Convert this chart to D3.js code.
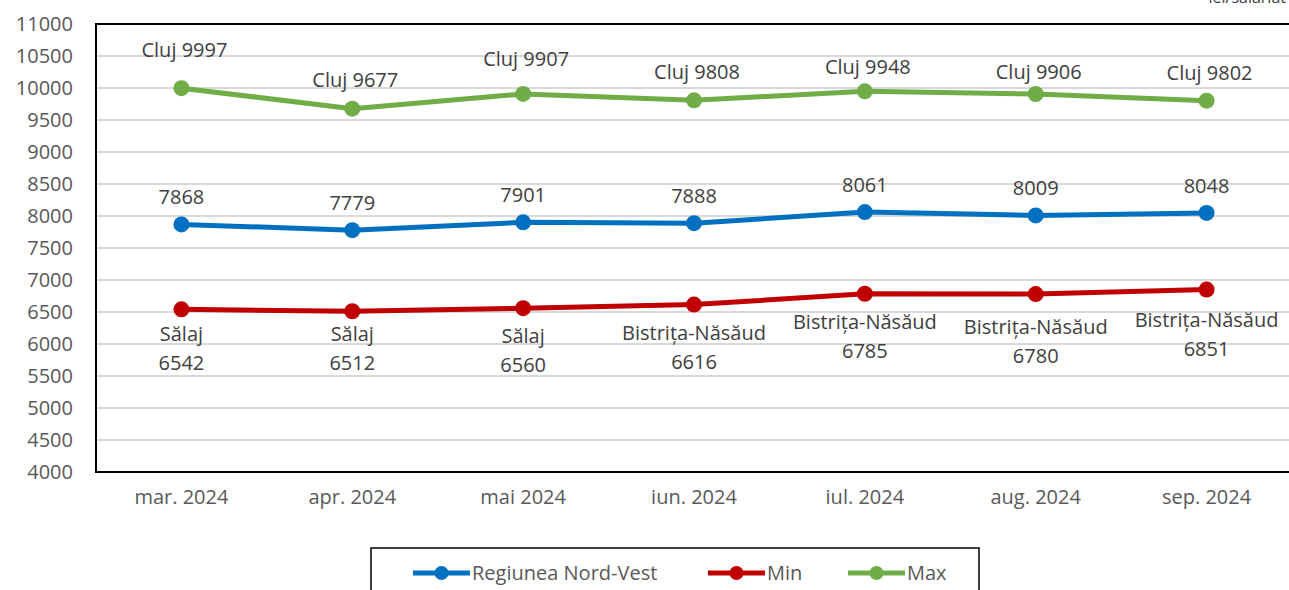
<!DOCTYPE html>
<html>
<head>
<meta charset="utf-8">
<script src="https://cdn.jsdelivr.net/npm/d3@7"></script>
<style>
  body { margin: 0; background: #fff; }
  svg text { font-family: "Open Sans", "Noto Sans", sans-serif; }
</style>
</head>
<body>
<div id="chart"></div>
<script>
// data
var months = ["mar. 2024", "apr. 2024", "mai 2024", "iun. 2024", "iul. 2024", "aug. 2024", "sep. 2024"];
var regiune = [7868, 7779, 7901, 7888, 8061, 8009, 8048];
var minVals = [6542, 6512, 6560, 6616, 6785, 6780, 6851];
var minJudet = ["Sălaj", "Sălaj", "Sălaj", "Bistrița-Năsăud", "Bistrița-Năsăud", "Bistrița-Năsăud", "Bistrița-Năsăud"];
var maxVals = [9997, 9677, 9907, 9808, 9948, 9906, 9802];
var maxJudet = ["Cluj", "Cluj", "Cluj", "Cluj", "Cluj", "Cluj", "Cluj"];
var yTicks = d3.range(4000, 11001, 500);

// label placement (pixels from the point), labels were nudged by hand in the original
var maxLabelDy = [-31, -22, -28, -21, -17, -15, -21];
var minLabelDy = [32, 30, 35, 35, 35, 40, 37];

var width = 1289, height = 590;
var plotLeft = 96, plotTop = 24, plotRight = 1292, plotBottom = 472;
var fs = 20;

var svg = d3.select("#chart").append("svg")
    .attr("width", width)
    .attr("height", height);

var x = d3.scaleBand().domain(months).range([plotLeft, plotRight]);
var y = d3.scaleLinear().domain([4000, 11000]).range([plotBottom, plotTop]);

function cx(i){ return x(months[i]) + x.bandwidth() / 2; }

// gridlines
svg.append("g")
    .selectAll("line")
    .data(yTicks)
    .enter()
    .append("line")
    .attr("x1", plotLeft)
    .attr("x2", plotRight)
    .attr("y1", function(d){ return y(d); })
    .attr("y2", function(d){ return y(d); })
    .attr("stroke", "#d9d9d9")
    .attr("stroke-width", 2);

// plot border
svg.append("rect")
    .attr("x", plotLeft)
    .attr("y", plotTop)
    .attr("width", plotRight - plotLeft)
    .attr("height", plotBottom - plotTop)
    .attr("fill", "none")
    .attr("stroke", "#000")
    .attr("stroke-width", 2);

// y axis labels
var yAxis = d3.axisLeft(y).tickValues(yTicks).tickFormat(d3.format("d")).tickSize(0).tickPadding(23);
svg.append("g")
    .attr("transform", `translate(${plotLeft}, 0)`)
    .call(yAxis)
    .call(function(g){ g.select(".domain").remove(); })
    .selectAll("text")
    .attr("font-size", fs)
    .attr("fill", "#595959")
    .style("font-family", "'Open Sans', sans-serif");

// x axis labels
var xAxis = d3.axisBottom(x).tickSize(0).tickPadding(18);
svg.append("g")
    .attr("transform", `translate(0, ${plotBottom})`)
    .call(xAxis)
    .call(function(g){ g.select(".domain").remove(); })
    .selectAll("text")
    .attr("font-size", fs)
    .attr("fill", "#595959")
    .style("font-family", "'Open Sans', sans-serif");

// unit label, cut off at top of the picture
svg.append("text")
    .attr("x", 1286)
    .attr("y", 3)
    .attr("text-anchor", "end")
    .attr("font-size", 16)
    .attr("fill", "#404040")
    .text("lei/salariat");

var series = [
    { name: "Regiunea Nord-Vest", values: regiune, color: "#0070C0" },
    { name: "Min", values: minVals, color: "#C00000" },
    { name: "Max", values: maxVals, color: "#70AD47" }
];

var line = d3.line()
    .x(function(d, i){ return cx(i); })
    .y(function(d){ return y(d); });

series.forEach(function(s){
    svg.append("path")
        .datum(s.values)
        .attr("d", line)
        .attr("fill", "none")
        .attr("stroke", s.color)
        .attr("stroke-width", 5)
        .attr("stroke-linejoin", "round");

    svg.append("g")
        .selectAll("circle")
        .data(s.values)
        .enter()
        .append("circle")
        .attr("cx", function(d, i){ return cx(i); })
        .attr("cy", function(d){ return y(d); })
        .attr("r", 8)
        .attr("fill", s.color);
});

// labels: max above
svg.append("g")
    .selectAll("text")
    .data(maxVals)
    .enter()
    .append("text")
    .attr("x", function(d, i){ return cx(i) + 3; })
    .attr("y", function(d, i){ return y(d) + maxLabelDy[i]; })
    .attr("text-anchor", "middle")
    .attr("font-size", fs)
    .attr("fill", "#404040")
    .text(function(d, i){ return maxJudet[i] + " " + d; });

// labels: regiune above
svg.append("g")
    .selectAll("text")
    .data(regiune)
    .enter()
    .append("text")
    .attr("x", function(d, i){ return cx(i); })
    .attr("y", function(d){ return y(d) - 20; })
    .attr("text-anchor", "middle")
    .attr("font-size", fs)
    .attr("fill", "#404040")
    .text(function(d){ return d; });

// labels: min below, two lines
var minLab = svg.append("g")
    .selectAll("text")
    .data(minVals)
    .enter()
    .append("text")
    .attr("text-anchor", "middle")
    .attr("font-size", fs)
    .attr("fill", "#404040");
minLab.append("tspan")
    .attr("x", function(d, i){ return cx(i); })
    .attr("y", function(d, i){ return y(d) + minLabelDy[i]; })
    .text(function(d, i){ return minJudet[i]; });
minLab.append("tspan")
    .attr("x", function(d, i){ return cx(i); })
    .attr("y", function(d, i){ return y(d) + minLabelDy[i] + 29; })
    .text(function(d){ return d; });

// legend
var legend = svg.append("g");
legend.append("rect")
    .attr("x", 371)
    .attr("y", 548)
    .attr("width", 608)
    .attr("height", 60)
    .attr("fill", "#fff")
    .attr("stroke", "#000")
    .attr("stroke-width", 1.5);

var legendX = [413, 708, 848];
series.forEach(function(s, i){
    var g = legend.append("g").attr("transform", `translate(${legendX[i]}, 573)`);
    g.append("line")
        .attr("x1", 0).attr("x2", 57)
        .attr("stroke", s.color)
        .attr("stroke-width", 5);
    g.append("circle")
        .attr("cx", 28.5)
        .attr("r", 7)
        .attr("fill", s.color);
    g.append("text")
        .attr("x", 59)
        .attr("y", 7)
        .attr("font-size", fs)
        .attr("fill", "#595959")
        .text(s.name);
});
</script>
</body>
</html>
